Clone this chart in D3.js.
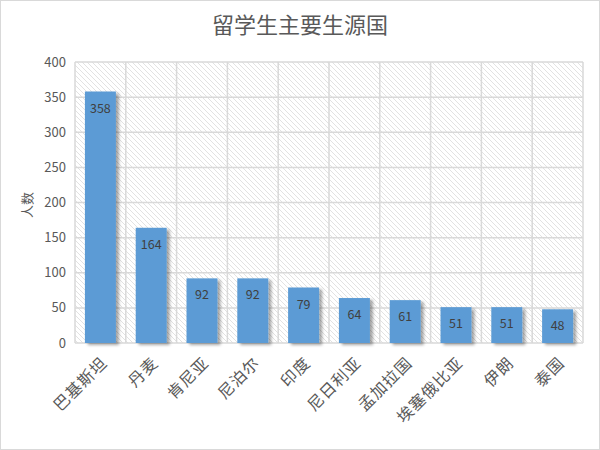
<!DOCTYPE html>
<html>
<head>
<meta charset="utf-8">
<script src="https://cdn.jsdelivr.net/npm/d3@7/dist/d3.min.js"></script>
<style>
  body { margin: 0; background: #fff; }
  svg text { font-family: "Noto Sans CJK SC", "Noto Sans", sans-serif; }
</style>
</head>
<body>
<div id="chart"></div>
<script>
// chart data
var countries = ["巴基斯坦", "丹麦", "肯尼亚", "尼泊尔", "印度", "尼日利亚", "孟加拉国", "埃塞俄比亚", "伊朗", "泰国"];
var students = [358, 164, 92, 92, 79, 64, 61, 51, 51, 48];
var yTicks = [0, 50, 100, 150, 200, 250, 300, 350, 400];

var width = 600, height = 450;
var margin = {top: 62, right: 17, bottom: 107, left: 75};

var svg = d3.select("#chart").append("svg")
    .attr("width", width)
    .attr("height", height);

var defs = svg.append("defs");

// diagonal hatch for the plot background
var hatch = defs.append("pattern")
    .attr("id", "hatch")
    .attr("patternUnits", "userSpaceOnUse")
    .attr("width", 5)
    .attr("height", 5);
hatch.append("rect").attr("width", 5).attr("height", 5).attr("fill", "#fff");
hatch.append("path")
    .attr("d", "M0,0L5,5M-1,4L1,6M4,-1L6,1")
    .attr("stroke", "#dadada")
    .attr("stroke-width", 0.8);

var shadow = defs.append("filter")
    .attr("id", "shadow")
    .attr("x", "-20%").attr("y", "-20%")
    .attr("width", "160%").attr("height", "140%");
shadow.append("feDropShadow")
    .attr("dx", 3).attr("dy", 2)
    .attr("stdDeviation", 1.8)
    .attr("flood-color", "#000")
    .attr("flood-opacity", 0.35);

// outer frame
svg.append("rect")
    .attr("x", 0.5).attr("y", 0.5)
    .attr("width", width - 1).attr("height", height - 1)
    .attr("fill", "#fff")
    .attr("stroke", "#d9d9d9");

var x = d3.scaleBand()
    .domain(countries)
    .range([margin.left, width - margin.right])
    .paddingInner(0.39)
    .paddingOuter(0.195);

var y = d3.scaleLinear()
    .domain([0, 400])
    .range([height - margin.bottom, margin.top]);

var plotW = width - margin.right - margin.left;
var step = plotW / countries.length;

svg.append("rect")
    .attr("x", margin.left)
    .attr("y", margin.top)
    .attr("width", plotW)
    .attr("height", y(0) - margin.top)
    .attr("fill", "url(#hatch)");

// horizontal gridlines
svg.append("g").selectAll("line")
    .data(yTicks)
    .enter().append("line")
    .attr("x1", margin.left)
    .attr("x2", width - margin.right)
    .attr("y1", function(d) { return y(d); })
    .attr("y2", function(d) { return y(d); })
    .attr("stroke", "#d9d9d9")
    .attr("stroke-width", 1.5);

// vertical gridlines between categories
svg.append("g").selectAll("line")
    .data(d3.range(countries.length + 1))
    .enter().append("line")
    .attr("x1", function(i) { return margin.left + i * step; })
    .attr("x2", function(i) { return margin.left + i * step; })
    .attr("y1", margin.top)
    .attr("y2", y(0))
    .attr("stroke", "#d9d9d9")
    .attr("stroke-width", 1.5);

// y tick labels
svg.append("g").selectAll("text")
    .data(yTicks)
    .enter().append("text")
    .attr("x", margin.left - 9)
    .attr("y", function(d) { return y(d); })
    .attr("dy", "0.35em")
    .attr("text-anchor", "end")
    .style("font-size", "13px")
    .style("fill", "#595959")
    .text(function(d) { return d; });

var bars = svg.append("g").selectAll("g")
    .data(students)
    .enter().append("g");

bars.append("rect")
    .attr("x", function(d, i) { return x(countries[i]); })
    .attr("y", function(d) { return y(d); })
    .attr("width", x.bandwidth())
    .attr("height", function(d) { return y(0) - y(d); })
    .attr("fill", "#5b9bd5")
    .attr("filter", "url(#shadow)");

bars.append("text")
    .attr("x", function(d, i) { return x(countries[i]) + x.bandwidth() / 2; })
    .attr("y", function(d) { return y(d) + 21; })
    .attr("text-anchor", "middle")
    .style("font-size", "12.5px")
    .style("fill", "#404040")
    .text(function(d) { return d; });

// x category labels, rotated
svg.append("g").selectAll("text")
    .data(countries)
    .enter().append("text")
    .attr("transform", function(d) {
        return "translate(" + (x(d) + x.bandwidth() / 2 + 4) + "," + (y(0) + 17) + ") rotate(-45)";
    })
    .attr("text-anchor", "end")
    .attr("dy", "0.35em")
    .style("font-size", "16px")
    .style("letter-spacing", "1px")
    .style("fill", "#595959")
    .text(function(d) { return d; });

// axis title
svg.append("text")
    .attr("transform", "translate(27,205) rotate(-90)")
    .attr("text-anchor", "middle")
    .attr("dy", "0.35em")
    .style("font-size", "13px")
    .style("fill", "#595959")
    .text("人数");

// chart title
svg.append("text")
    .attr("x", width / 2)
    .attr("y", 33)
    .attr("text-anchor", "middle")
    .style("font-size", "22px")
    .style("fill", "#595959")
    .text("留学生主要生源国");
</script>
</body>
</html>
